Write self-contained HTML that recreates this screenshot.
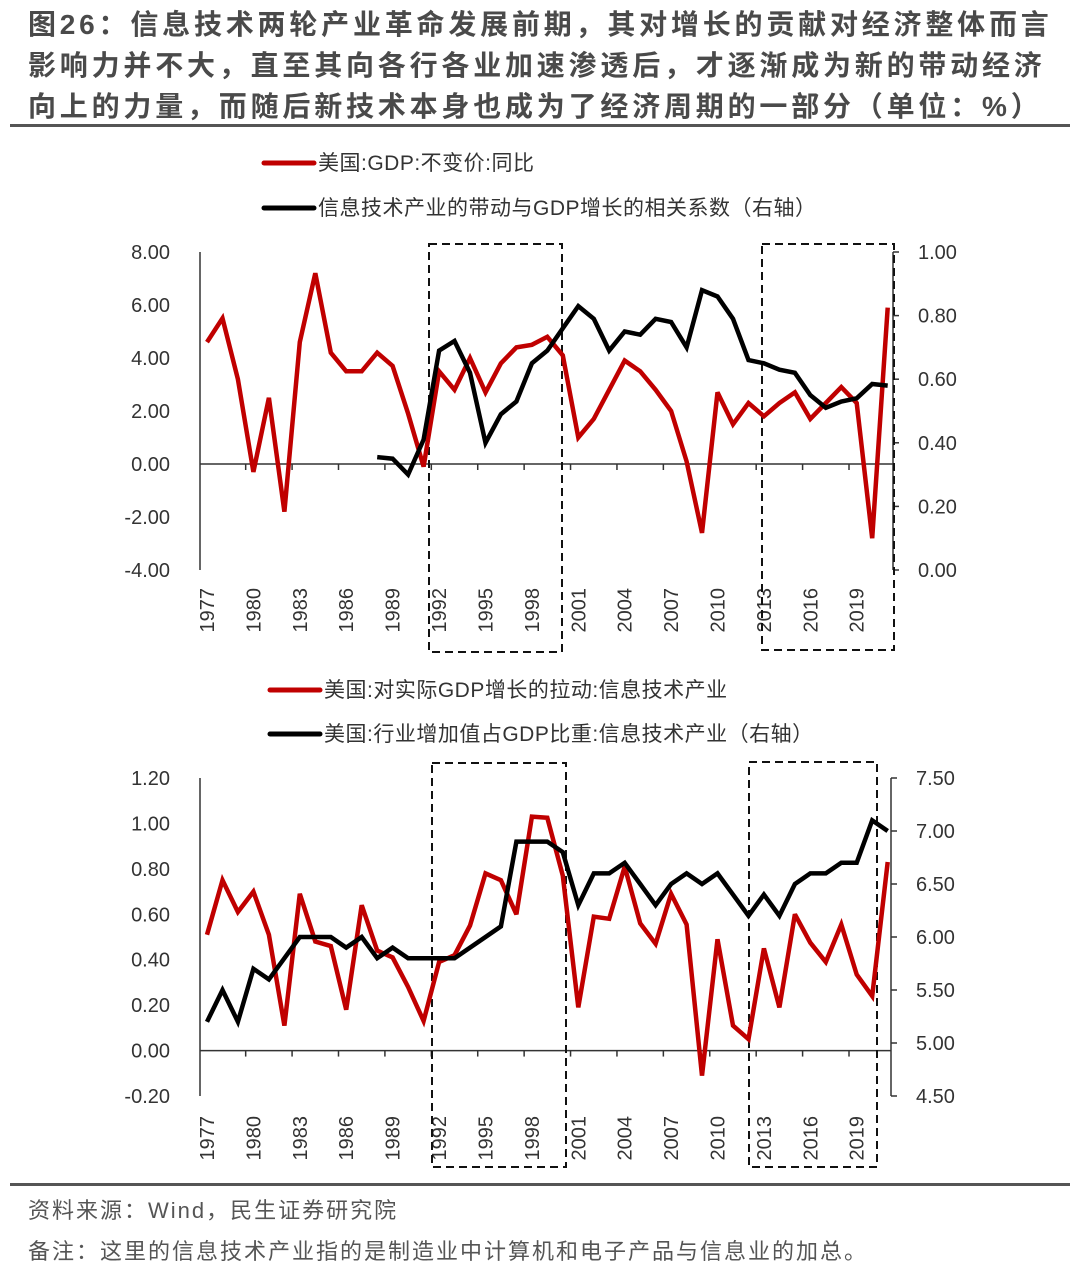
<!DOCTYPE html>
<html><head><meta charset="utf-8">
<style>
html,body{margin:0;padding:0;background:#fff;}
body{width:1080px;height:1271px;overflow:hidden;position:relative;font-family:"Liberation Sans","Noto Sans CJK SC",sans-serif;}
.title{position:absolute;left:28px;top:4px;font-size:28px;font-weight:bold;color:#4a4a4a;line-height:41px;letter-spacing:3.8px;white-space:nowrap;}
.rule{position:absolute;left:10px;width:1060px;height:3px;background:#555;}
.foot{position:absolute;left:28px;font-size:22px;letter-spacing:2px;color:#555;white-space:nowrap;}
svg{position:absolute;left:0;top:0;}
svg text{font-family:"Liberation Sans","Noto Sans CJK SC",sans-serif;}
</style></head>
<body>
<div class="title">图26：信息技术两轮产业革命发展前期，其对增长的贡献对经济整体而言<br>影响力并不大，直至其向各行各业加速渗透后，才逐渐成为新的带动经济<br>向上的力量，而随后新技术本身也成为了经济周期的一部分（单位：%）</div>
<div class="rule" style="top:124px"></div>
<div class="rule" style="top:1183px"></div>
<div class="foot" style="top:1193px">资料来源：Wind，民生证券研究院</div>
<div class="foot" style="top:1234px">备注：这里的信息技术产业指的是制造业中计算机和电子产品与信息业的加总。</div>
<svg id="chart" width="1080" height="1271"></svg>
<script>
const years = [];
for (let y = 1977; y <= 2021; y++) years.push(y);
const gdpGrowth = [4.6,5.5,3.2,-0.3,2.5,-1.8,4.6,7.2,4.2,3.5,3.5,4.2,3.7,1.9,-0.1,3.5,2.8,4.0,2.7,3.8,4.4,4.5,4.8,4.1,1.0,1.7,2.8,3.9,3.5,2.8,2.0,0.1,-2.6,2.7,1.5,2.3,1.8,2.3,2.7,1.7,2.3,2.9,2.3,-2.8,5.9];
const corrYears = [1988,1989,1990,1991,1992,1993,1994,1995,1996,1997,1998,1999,2000,2001,2002,2003,2004,2005,2006,2007,2008,2009,2010,2011,2012,2013,2014,2015,2016,2017,2018,2019,2020,2021];
const corrValues = [0.355,0.35,0.30,0.41,0.69,0.72,0.62,0.40,0.49,0.53,0.65,0.69,0.76,0.83,0.79,0.69,0.75,0.74,0.79,0.78,0.70,0.88,0.86,0.79,0.66,0.65,0.63,0.62,0.55,0.51,0.53,0.54,0.585,0.58];
const itPull = [0.51,0.75,0.61,0.70,0.51,0.11,0.69,0.48,0.46,0.18,0.64,0.44,0.41,0.28,0.13,0.39,0.42,0.55,0.78,0.75,0.60,1.03,1.025,0.77,0.19,0.59,0.58,0.81,0.56,0.47,0.69,0.555,-0.11,0.49,0.11,0.05,0.45,0.19,0.60,0.475,0.39,0.555,0.335,0.24,0.83];
const itShare = [5.2,5.5,5.2,5.7,5.6,5.8,6.0,6.0,6.0,5.9,6.0,5.8,5.9,5.8,5.8,5.8,5.8,5.9,6.0,6.1,6.9,6.9,6.9,6.8,6.3,6.6,6.6,6.7,6.5,6.3,6.5,6.6,6.5,6.6,6.4,6.2,6.4,6.2,6.5,6.6,6.6,6.7,6.7,7.1,7.0];
const topLeftTicks = ["8.00","6.00","4.00","2.00","0.00","-2.00","-4.00"];
const topRightTicks = ["1.00","0.80","0.60","0.40","0.20","0.00"];
const botLeftTicks = ["1.20","1.00","0.80","0.60","0.40","0.20","0.00","-0.20"];
const botRightTicks = ["7.50","7.00","6.50","6.00","5.50","5.00","4.50"];
const xLabelYears = [1977,1980,1983,1986,1989,1992,1995,1998,2001,2004,2007,2010,2013,2016,2019];

const NS = "http://www.w3.org/2000/svg";
const svg = document.getElementById('chart');
function mk(tag, attrs, parent) {
  const e = document.createElementNS(NS, tag);
  for (const k in attrs) e.setAttribute(k, attrs[k]);
  (parent || svg).appendChild(e);
  return e;
}
const X0 = 207, XSTEP = 15.47;
const xOf = yr => X0 + (yr - 1977) * XSTEP;
function scale(d0, d1, p0, p1) { return v => p0 + (v - d0) / (d1 - d0) * (p1 - p0); }

function drawChart(cfg) {
  const g = mk('g', {});
  
  
  const yL = scale(cfg.lMin, cfg.lMax, cfg.bottom, cfg.top);
  const yR = scale(cfg.rMin, cfg.rMax, cfg.bottom, cfg.top);
  const la = mk('line', {x1:200, y1:cfg.top, x2:200, y2:cfg.bottom, stroke:'#333', 'stroke-width':1.5}, g);
  
  
  cfg.lTicks.forEach(t => {
    const v = parseFloat(t), y = yL(v);
    const tx = mk('text', {x:170, y:y+7, 'text-anchor':'end', 'font-size':20, fill:'#333'}, g);
    tx.textContent = t;
    
    
  });
  const ra = mk('line', {x1:cfg.rx, y1:cfg.top, x2:cfg.rx, y2:cfg.bottom, stroke:'#333', 'stroke-width':1.5}, g);
  
  
  cfg.rTicks.forEach(t => {
    const v = parseFloat(t), y = yR(v);
    mk('line', {x1:cfg.rx, y1:y, x2:cfg.rx+6, y2:y, stroke:'#333', 'stroke-width':1.5}, g);
    const tx = mk('text', {x:cfg.rx+25, y:y+7, 'font-size':20, fill:'#333'}, g);
    tx.textContent = t;
    
    
  });
  const zy = yL(0);
  const za = mk('line', {x1:200, y1:zy, x2:cfg.rx, y2:zy, stroke:'#333', 'stroke-width':1.5}, g);
  
  
  for (let yr = 1979.5; yr < 2021; yr += 3) {
    const x = xOf(yr);
    mk('line', {x1:x, y1:zy, x2:x, y2:zy+6, stroke:'#333', 'stroke-width':1.5}, g);
  }
  xLabelYears.forEach(yr => {
    const x = xOf(yr) + 7;
    const tx = mk('text', {x:0, y:0, transform:`translate(${x},${cfg.labelY}) rotate(-90)`, 'text-anchor':'end', 'font-size':20, fill:'#333'}, g);
    tx.textContent = String(yr);
    
    
  });
  cfg.boxes.forEach((b, i) => {
    const r = mk('rect', {x:b[0], y:b[1], width:b[2]-b[0], height:b[3]-b[1], fill:'none', stroke:'#111', 'stroke-width':2, 'stroke-dasharray':'8,5'}, g);
    
    
  });
  const redPts = cfg.redYears.map((yr, i) => xOf(yr).toFixed(1) + ',' + yL(cfg.red[i]).toFixed(1)).join(' ');
  const rp = mk('polyline', {points:redPts, fill:'none', stroke:'#c00000', 'stroke-width':4.5, 'stroke-linejoin':'miter', 'stroke-miterlimit':3}, g);
  
  
  const blkPts = cfg.blkYears.map((yr, i) => xOf(yr).toFixed(1) + ',' + yR(cfg.blk[i]).toFixed(1)).join(' ');
  const bp = mk('polyline', {points:blkPts, fill:'none', stroke:'#000', 'stroke-width':4.5, 'stroke-linejoin':'miter', 'stroke-miterlimit':3}, g);
  
  
  cfg.legend.forEach((l, i) => {
    const lg = mk('g', {}, g);
    
    
    mk('line', {x1:l.x, y1:l.y, x2:l.x+50, y2:l.y, stroke:l.c, 'stroke-width':5, 'stroke-linecap':'round'}, lg);
    const tx = mk('text', {x:l.x+54, y:l.y+7, 'font-size':21, 'letter-spacing':0.5, fill:'#333'}, lg);
    tx.textContent = l.t;
  });
}

drawChart({
  name:'top-chart', top:252, bottom:570, lMin:-4, lMax:8, rMin:0, rMax:1, rx:893,
  lTicks:topLeftTicks, rTicks:topRightTicks, labelY:588,
  boxes:[[429,244,562,652],[762,244,894,650]],
  redYears:years, red:gdpGrowth, blkYears:corrYears, blk:corrValues,
  redName:'gdp-growth-line', blkName:'it-gdp-correlation-line',
  legend:[{x:264,y:163,c:'#c00000',t:'美国:GDP:不变价:同比'},{x:264,y:208,c:'#000',t:'信息技术产业的带动与GDP增长的相关系数（右轴）'}]
});
drawChart({
  name:'bottom-chart', top:778, bottom:1096, lMin:-0.2, lMax:1.2, rMin:4.5, rMax:7.5, rx:891,
  lTicks:botLeftTicks, rTicks:botRightTicks, labelY:1116,
  boxes:[[432,763,566,1167],[749,762,877,1167]],
  redYears:years, red:itPull, blkYears:years, blk:itShare,
  redName:'it-pull-on-gdp-line', blkName:'it-value-added-share-line',
  legend:[{x:270,y:690,c:'#c00000',t:'美国:对实际GDP增长的拉动:信息技术产业'},{x:270,y:734,c:'#000',t:'美国:行业增加值占GDP比重:信息技术产业（右轴）'}]
});
</script>
</body></html>
